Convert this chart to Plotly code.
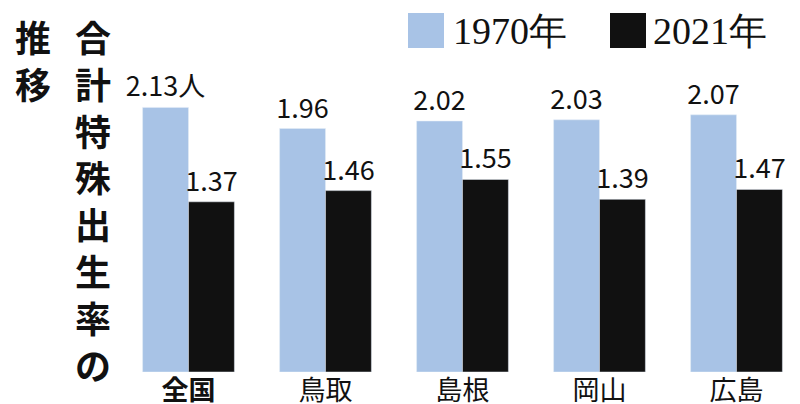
import plotly.graph_objects as go

categories = ["<b>全国</b>", "鳥取", "島根", "岡山", "広島"]
v1970 = [2.13, 1.96, 2.02, 2.03, 2.07]
v2021 = [1.37, 1.46, 1.55, 1.39, 1.47]
t1970 = ["2.13人", "1.96", "2.02", "2.03", "2.07"]
t2021 = ["1.37", "1.46", "1.55", "1.39", "1.47"]

font = "Noto Sans CJK JP"
L, B, PW, PH = 112, 40, 685, 364
fig = go.Figure()
fig.add_bar(x=categories, y=v1970, text=t1970, textposition="outside", marker_color="#a8c3e6",
            textfont=dict(size=27, color="#111", family=font), cliponaxis=False,
            constraintext="none", name="1970年")
fig.add_bar(x=categories, y=v2021, text=t2021, textposition="outside", marker_color="#111111",
            textfont=dict(size=27, color="#111", family=font), cliponaxis=False,
            constraintext="none", name="2021年")

fig.update_layout(
    width=800, height=404, barmode="group", bargap=0.33, bargroupgap=0,
    margin=dict(l=L, r=3, t=0, b=B), showlegend=False,
    plot_bgcolor="white", paper_bgcolor="white",
    yaxis=dict(range=[0, 2.93], visible=False),
    xaxis=dict(tickfont=dict(size=27, color="#111", family=font), showline=False, ticks=""),
)

def px(x):
    return (x - L) / PW

def py(y):
    return (404 - B - y) / PH

# legend
fig.add_shape(type="rect", xref="paper", yref="paper", x0=px(400), x1=px(436),
              y0=py(40), y1=py(5), fillcolor="#a8c3e6", line_width=0)
fig.add_shape(type="rect", xref="paper", yref="paper", x0=px(602), x1=px(638),
              y0=py(40), y1=py(5), fillcolor="#111111", line_width=0)
for x, t in [(443, "1970年"), (643, "2021年")]:
    fig.add_annotation(x=px(x), y=py(23), xref="paper", yref="paper",
                       text=t, showarrow=False, xanchor="left", yanchor="middle",
                       font=dict(size=38, color="#111", family="Liberation Serif, serif"))
# vertical title
col1 = "<br>".join("合計特殊出生率の")
col2 = "<br>".join("推移")
for x, t in [(85, col1), (25, col2)]:
    fig.add_annotation(x=px(x), y=py(0), xref="paper", yref="paper", text="<b>" + t + "</b>",
                       showarrow=False, xanchor="center", yanchor="top",
                       font=dict(size=36, color="#111", family=font))
fig.write_html("out.html")
